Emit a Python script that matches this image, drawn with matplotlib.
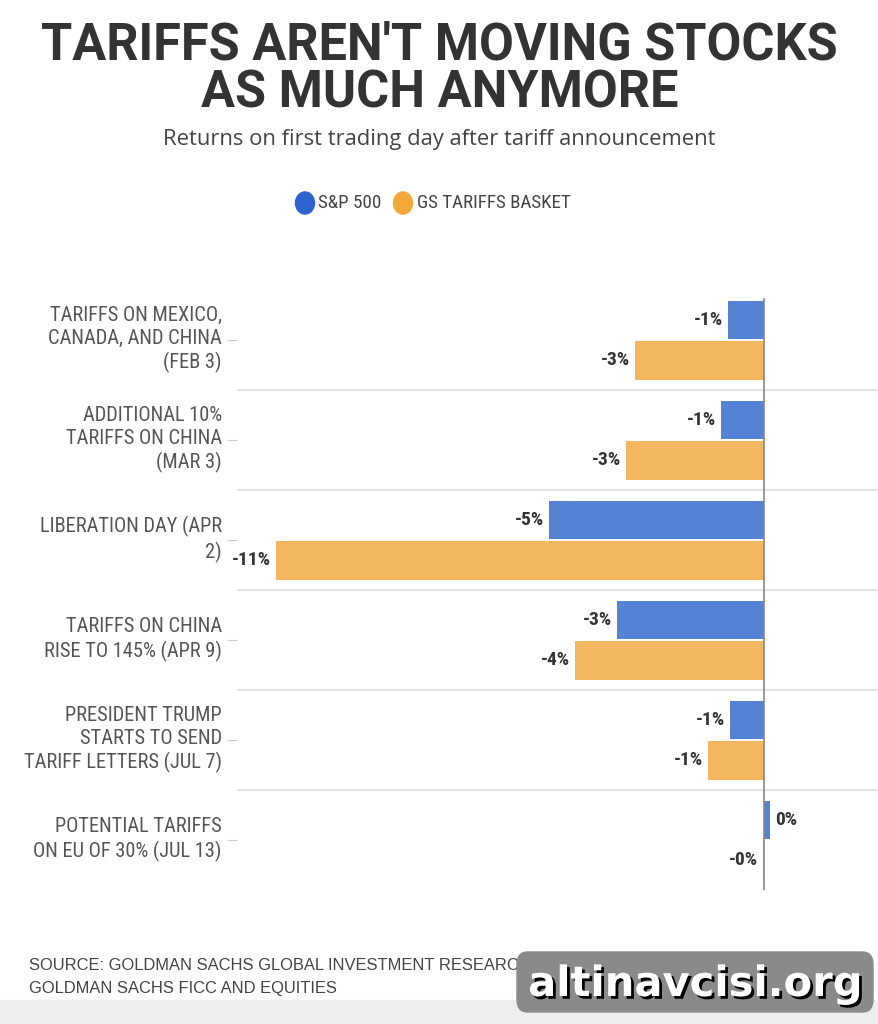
import matplotlib
matplotlib.use('Agg')
import matplotlib.pyplot as plt
import matplotlib.transforms as mtransforms
from matplotlib import font_manager
from matplotlib.patches import FancyBboxPatch, Rectangle, Circle
import matplotlib.patheffects as pe

# data
categories = [
    "TARIFFS ON MEXICO,\nCANADA, AND CHINA\n(FEB 3)",
    "ADDITIONAL 10%\nTARIFFS ON CHINA\n(MAR 3)",
    "LIBERATION DAY (APR\n2)",
    "TARIFFS ON CHINA\nRISE TO 145% (APR 9)",
    "PRESIDENT TRUMP\nSTARTS TO SEND\nTARIFF LETTERS (JUL 7)",
    "POTENTIAL TARIFFS\nON EU OF 30% (JUL 13)",
]
sp500 = [-0.8, -0.97, -4.85, -3.3, -0.77, 0.14]
gs_basket = [-2.9, -3.1, -11.0, -4.26, -1.26, -0.03]
series_names = ["S&P 500", "GS TARIFFS BASKET"]

BLUE = "#5682D4"
ORANGE = "#F3B75F"


def pick(names):
    have = {f.name for f in font_manager.fontManager.ttflist}
    for n in names:
        if n in have:
            return n
    return "DejaVu Sans"


narrow = pick(["Roboto Condensed", "Liberation Sans Narrow", "Roboto"])
plain = pick(["Open Sans", "Roboto"])
bold = pick(["Roboto", "Liberation Sans"])
helv = pick(["Liberation Sans", "Roboto"])

W, H = 879, 1024
fig = plt.figure(figsize=(W / 100, H / 100), dpi=100)
fig.patch.set_facecolor("white")

# plot area in pixels: x 237..879, y 290..890
ax = fig.add_axes([237 / W, 1 - 890 / H, (879 - 237) / W, 600 / H])
px_per_pct = 44.4
ax.set_xlim((237 - 764) / px_per_pct, (879 - 764) / px_per_pct)
ax.set_ylim(5.5, -0.5)

y = range(len(categories))
ax.barh([i - 0.2 for i in y], sp500, height=0.38, color=BLUE, zorder=2)
ax.barh([i + 0.2 for i in y], gs_basket, height=0.39, color=ORANGE, zorder=2)

for i in y:
    for v, off in ((sp500[i], -0.2), (gs_basket[i], 0.2)):
        lab = f"{v:.0f}%"
        sign = -1 if v < 0 else 1
        ax.annotate(lab, (v, i + off), xytext=(3.5 * sign, 0), textcoords="offset points",
                    ha="right" if v < 0 else "left", va="center", fontsize=14,
                    fontweight="bold", color="#333333", family=narrow)

for b in [0.5, 1.5, 2.5, 3.5, 4.5]:
    ax.axhline(b, color="#dddddd", lw=1.2, zorder=1)
ax.axvline(0, ymin=0, ymax=0.985, color="#888888", lw=1.2, zorder=3)

ax.set_yticks(list(y))
ax.set_yticklabels(categories, family=narrow, fontsize=14.7, color="#555555",
                   linespacing=1.27)
ax.tick_params(axis="y", length=7, color="#cccccc", pad=4)
shift = mtransforms.ScaledTranslation(0, 5 / 100, fig.dpi_scale_trans)
for t in ax.get_yticklabels():
    t.set_transform(t.get_transform() + shift)
ax.set_xticks([])
for s in ax.spines.values():
    s.set_visible(False)

# title
fig.text(0.5, 1 - 45 / H, "TARIFFS AREN'T MOVING STOCKS", ha="center", va="center",
         fontsize=36.4, fontweight="bold", color="#333333", family=bold)
fig.text(0.5, 1 - 93 / H, "AS MUCH ANYMORE", ha="center", va="center",
         fontsize=36.4, fontweight="bold", color="#333333", family=bold)
fig.text(0.5, 1 - 139 / H, "Returns on first trading day after tariff announcement",
         ha="center", va="center", fontsize=15.8, color="#444444", family=plain)

# legend
leg_y = 1 - 203 / H
for cx, col, tx, name in ((305, "#2F64D0", 318, series_names[0]),
                          (403, "#F2A93B", 417, series_names[1])):
    fig.patches.append(Circle((cx / W, leg_y), 9.5 / W, transform=fig.transFigure,
                              color=col, zorder=5))
    fig.text(tx / W, leg_y, name, ha="left", va="center", fontsize=13.7,
             color="#444444", family=narrow)

# source
fig.text(29 / W, 1 - 966 / H, "SOURCE: GOLDMAN SACHS GLOBAL INVESTMENT RESEARCH,",
         ha="left", va="center", fontsize=11.9, color="#444444", family=helv)
fig.text(29 / W, 1 - 988 / H, "GOLDMAN SACHS FICC AND EQUITIES",
         ha="left", va="center", fontsize=11.9, color="#444444", family=helv)

# bottom grey band
fig.patches.append(Rectangle((0, 0), 1, 24 / H, transform=fig.transFigure,
                             color="#eeeeee", zorder=0))

# watermark
fig.patches.append(FancyBboxPatch((517 / W, 1 - 1012 / H), 356 / W, 60 / H,
                                  boxstyle="round,pad=0,rounding_size=0.012",
                                  transform=fig.transFigure, color="#8a8a8a", zorder=6))
fig.text(695 / W, 1 - 984 / H, "altinavcisi.org", ha="center", va="center",
         fontsize=30, fontweight="bold", color="white", family="DejaVu Sans", zorder=7,
         path_effects=[pe.withSimplePatchShadow(offset=(2, -2), shadow_rgbFace="black",
                                                alpha=1)])

fig.savefig("out.png", dpi=100)
